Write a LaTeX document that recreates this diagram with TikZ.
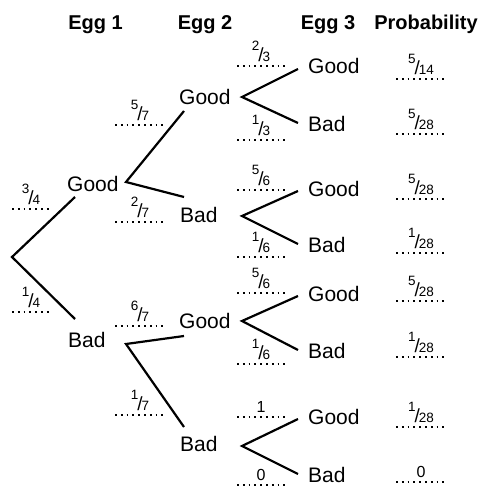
\documentclass[tikz,border=0pt]{standalone}
\usepackage{fontspec}
\setmainfont{Liberation Sans}

% frazione con numeratore in alto e denominatore in basso
\newcommand{\fr}[2]{\raisebox{11pt}{\fontsize{13.5}{13.5}\selectfont #1}\kern-1pt{\fontsize{19}{19}\selectfont /}\kern-1pt{\fontsize{13.5}{13.5}\selectfont #2}}
\newcommand{\cifra}[1]{{\fontsize{16}{16}\selectfont #1}}

\begin{document}
\begin{tikzpicture}[
            x=1pt, y=-1pt,
            font=\fontsize{21}{25}\selectfont,
            ramo/.style={line width=2.2pt},
            puntini/.style={line width=1.7pt, dash pattern=on 1.7pt off 4.1pt},
            esito/.style={anchor=base west, inner sep=0pt},
            testa/.style={anchor=base, inner sep=0pt, font=\fontsize{20}{24}\selectfont\bfseries},
            peso/.style={anchor=south, inner sep=0pt}
        ]
            \useasboundingbox (0,0) rectangle (484,487);

            % --- Intestazioni ---
            \node[testa] (h1) at (95.5,30) {Egg 1};
            \node[testa] (h2) at (205,30) {Egg 2};
            \node[testa] (h3) at (328,30) {Egg 3};
            \node[testa] (h4) at (426,30) {Probability};

            % --- Primo uovo ---
            \coordinate (r) at (12,257);
            \node[esito] (g1) at (67,191) {Good};
            \node[esito] (b1) at (68,347) {Bad};
            \draw[ramo] ([shift={(8,6)}]g1.base west) -- (r) -- ([shift={(7,-28)}]b1.base west);

            % --- Secondo uovo ---
            \coordinate (v1) at (126,182);
            \coordinate (v2) at (126,344);
            \node[esito] (g2) at (179,104) {Good};
            \node[esito] (b2) at (180,222) {Bad};
            \node[esito] (g2b) at (179,328) {Good};
            \node[esito] (b2b) at (180,451) {Bad};
            \draw[ramo] ([shift={(5,7)}]g2.base west) -- (v1) -- ([shift={(4,-25)}]b2.base west);
            \draw[ramo] ([shift={(5,8)}]g2b.base west) -- (v2) -- ([shift={(4,-24)}]b2b.base west);

            % --- Terzo uovo ---
            \foreach \i/\yv/\yg/\yb in {1/97/74/131, 2/216/196/252, 3/321/301/358, 4/446/424/482} {
                \coordinate (v3\i) at (242,\yv);
                \node[esito] (g3\i) at (308,\yg) {Good};
                \node[esito] (b3\i) at (308,\yb) {Bad};
                \draw[ramo] ([shift={(-10,-5)}]g3\i.base west) -- (v3\i) -- ([shift={(-10,-8)}]b3\i.base west);
            }

            % --- Probabilita' sopra le righe puntinate ---
            \foreach \n/\x/\y/\w/\t in {
                    p1/31/209/19/{\fr{3}{4}}, p2/31/312/19/{\fr{1}{4}},
                    q1/140/125/25/{\fr{5}{7}}, q2/140/222/25/{\fr{2}{7}},
                    q3/140/326/25/{\fr{6}{7}}, q4/140/415/25/{\fr{1}{7}},
                    s1/261/66/24/{\fr{2}{3}}, s2/261/140/24/{\fr{1}{3}},
                    s3/261/190/24/{\fr{5}{6}}, s4/261/257/24/{\fr{1}{6}},
                    s5/261/293/24/{\fr{5}{6}}, s6/261/364/24/{\fr{1}{6}},
                    s7/261/417/24/{\cifra{1}}, s8/261/485/24/{\cifra{0}},
                    t1/421/79/25/{\fr{5}{14}}, t2/421/134/25/{\fr{5}{28}},
                    t3/421/199/25/{\fr{5}{28}}, t4/421/253/25/{\fr{1}{28}},
                    t5/421/301/25/{\fr{5}{28}}, t6/421/357/25/{\fr{1}{28}},
                    t7/421/427/25/{\fr{1}{28}}, t8/421/482/25/{\cifra{0}}} {
                \node[peso] (\n) at (\x,\y-4) {\t};
                \draw[puntini] ([shift={(-\w,4)}]\n.south) -- ([shift={(\w,4)}]\n.south);
            }

    \end{tikzpicture}
\end{document}
